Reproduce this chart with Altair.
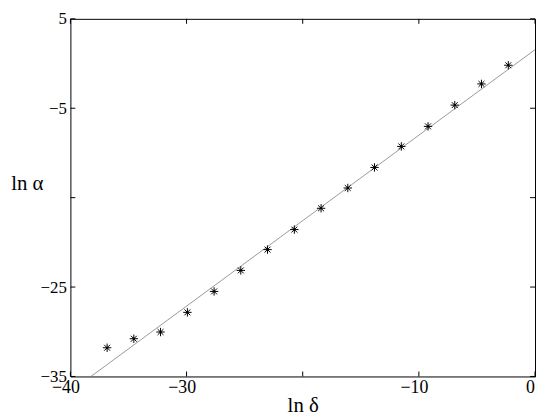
import altair as alt
import pandas as pd

# data
ln_delta = [-36.84, -34.54, -32.24, -29.93, -27.63, -25.33, -23.03, -20.72,
            -18.42, -16.12, -13.82, -11.51, -9.21, -6.91, -4.61, -2.30]
ln_alpha = [-31.79, -30.78, -30.03, -27.83, -25.49, -23.14, -20.81, -18.57,
            -16.19, -13.92, -11.62, -9.27, -7.03, -4.65, -2.28, -0.19]
fit_x = [-38.23, 0.0]
fit_y = [-35.0, 1.55]
x_ticks = [-40, -30, -20, -10, 0]
y_ticks = [-35, -25, -15, -5, 5]

W, H = 469, 361
FONT = "Liberation Serif"

pts = pd.DataFrame({"x": ln_delta, "y": ln_alpha})
fit = pd.DataFrame({"x": fit_x, "y": fit_y})
xt = pd.DataFrame({"v": x_ticks})
yt = pd.DataFrame({"v": y_ticks})

xs = alt.Scale(domain=[-40, 0], nice=False, zero=False)
ys = alt.Scale(domain=[-35, 5], nice=False, zero=False)

xaxis = alt.Axis(values=x_ticks, ticks=False, domain=False, grid=False,
                 labelExpr="datum.value == -20 ? '' : datum.label",
                 labelFont=FONT, labelFontSize=18, labelColor="black",
                 labelPadding=2, labelOffset=-5, labelFlush=False,
                 title="ln δ", titleFont=FONT, titleFontSize=21,
                 titleFontWeight="normal", titleColor="black",
                 titleBaseline="alphabetic", titleY=35)
yaxis = alt.Axis(values=y_ticks, ticks=False, domain=False, grid=False,
                 labelExpr="datum.value == -15 ? '' : datum.label",
                 labelFont=FONT, labelFontSize=17, labelColor="black",
                 labelPadding=4, labelFlush=False, labelBaseline="middle",
                 title="ln α", titleFont=FONT, titleFontSize=21,
                 titleFontWeight="normal", titleColor="black",
                 titleAngle=0, titleAlign="center", titleBaseline="alphabetic",
                 titleX=-44, titleY=172)

line = alt.Chart(fit).mark_line(color="#999999", strokeWidth=1, clip=True).encode(
    x=alt.X("x:Q", scale=xs, axis=xaxis),
    y=alt.Y("y:Q", scale=ys, axis=yaxis),
)

star = "M-1,0L1,0M0,-1L0,1M-0.7,-0.7L0.7,0.7M-0.7,0.7L0.7,-0.7"
points = alt.Chart(pts).mark_point(shape=star, filled=False, stroke="black",
                                   strokeWidth=1, size=72, opacity=1).encode(
    x=alt.X("x:Q", scale=xs),
    y=alt.Y("y:Q", scale=ys),
)
dots = alt.Chart(pts).mark_point(shape="circle", filled=True, color="black",
                                 size=5, opacity=1).encode(
    x=alt.X("x:Q", scale=xs),
    y=alt.Y("y:Q", scale=ys),
)

tl = 5
xb = alt.Chart(xt).mark_rule(color="black", strokeWidth=1).encode(
    x=alt.X("v:Q", scale=xs), y=alt.value(H), y2=alt.value(H - tl))
xtop = alt.Chart(xt).mark_rule(color="black", strokeWidth=1).encode(
    x=alt.X("v:Q", scale=xs), y=alt.value(0), y2=alt.value(tl))
yl = alt.Chart(yt).mark_rule(color="black", strokeWidth=1).encode(
    y=alt.Y("v:Q", scale=ys), x=alt.value(0), x2=alt.value(tl))
yr = alt.Chart(yt).mark_rule(color="black", strokeWidth=1).encode(
    y=alt.Y("v:Q", scale=ys), x=alt.value(W), x2=alt.value(W - tl))

chart = alt.layer(line, points, dots, xb, xtop, yl, yr).properties(
    width=W, height=H,
    autosize=alt.AutoSizeParams(type="none"),
    padding={"left": 63, "top": 9, "right": 2, "bottom": 41},
    background="white",
).configure_view(stroke="black", strokeWidth=1)

chart.save("out.html", embed_options={"renderer": "svg", "actions": False})
